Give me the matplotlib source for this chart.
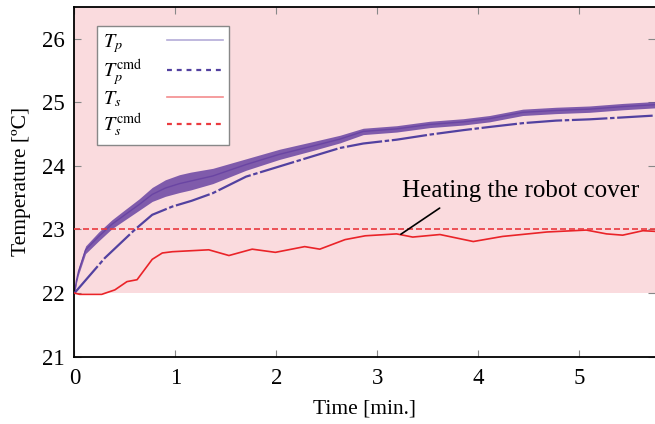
import matplotlib
matplotlib.use("Agg")
import matplotlib.pyplot as plt
from matplotlib.lines import Line2D

plt.rcParams['font.family'] = ['Liberation Serif', 'DejaVu Serif']
plt.rcParams['mathtext.fontset'] = 'stix'

# measured pipe temperature (centre of the noisy trace) and its spread
tp_time = [0.0, 0.02, 0.04, 0.11, 0.24, 0.37, 0.50, 0.64, 0.77, 0.90, 1.04,
           1.15, 1.37, 1.70, 2.03, 2.36, 2.63, 2.86, 3.19, 3.52, 3.85, 4.11,
           4.44, 4.77, 5.10, 5.43, 5.75]
tp_temp = [22.0, 22.2, 22.34, 22.68, 22.89, 23.08, 23.23, 23.39, 23.55, 23.65,
           23.72, 23.76, 23.84, 24.02, 24.18, 24.31, 24.42, 24.54, 24.58, 24.65,
           24.69, 24.74, 24.84, 24.87, 24.89, 24.93, 24.96]
tp_spread = [0.02, 0.04, 0.05, 0.06, 0.07, 0.07, 0.08, 0.09, 0.11, 0.13, 0.14,
             0.14, 0.12, 0.09, 0.08, 0.07, 0.06, 0.05, 0.05, 0.05, 0.05, 0.05,
             0.05, 0.05, 0.05, 0.05, 0.05]

# pipe temperature command
tpc_time = [0.0, 0.30, 0.60, 0.77, 0.97, 1.16, 1.37, 1.70, 2.03, 2.36, 2.63,
            2.86, 3.19, 3.52, 3.85, 4.11, 4.44, 4.77, 5.10, 5.43, 5.75]
tpc_temp = [22.0, 22.55, 23.0, 23.23, 23.36, 23.45, 23.57, 23.83, 23.99, 24.15,
            24.28, 24.35, 24.41, 24.49, 24.56, 24.61, 24.67, 24.71, 24.73, 24.76,
            24.79]

# measured surface temperature
ts_time = [0.0, 0.05, 0.27, 0.40, 0.52, 0.62, 0.77, 0.87, 0.97, 1.33, 1.53,
           1.76, 1.99, 2.28, 2.43, 2.68, 2.88, 3.19, 3.35, 3.62, 3.95, 4.24,
           4.68, 5.07, 5.27, 5.43, 5.63, 5.75]
ts_temp = [22.0, 21.98, 21.98, 22.05, 22.18, 22.21, 22.53, 22.63, 22.65, 22.68,
           22.59, 22.69, 22.64, 22.73, 22.69, 22.84, 22.90, 22.93, 22.88, 22.92,
           22.81, 22.89, 22.96, 22.99, 22.93, 22.91, 22.98, 22.97]

# surface temperature command
tsc_time = [0.0, 5.75]
tsc_temp = [23.0, 23.0]

c_tp = '#6a45a3'
c_tpc = '#5241a0'
c_ts = '#ea2328'
c_tsc = '#ea3a3f'

fig = plt.figure(figsize=(6.55, 4.24), dpi=100)
ax = fig.add_axes([0.1137, 0.1587, 0.8863, 0.8255])

ax.axhspan(22, 26.5, color='#fadbde', zorder=0, lw=0)

lo = [t - s for t, s in zip(tp_temp, tp_spread)]
hi = [t + s for t, s in zip(tp_temp, tp_spread)]
ax.fill_between(tp_time, lo, hi, color=c_tp, alpha=0.85, lw=0, zorder=2)
ax.plot(tp_time, tp_temp, color=c_tp, lw=1.0, zorder=2)
ax.plot(tpc_time, tpc_temp, color=c_tpc, lw=1.6, dashes=(16, 1.2, 2, 1.2), zorder=3)
ax.plot(ts_time, ts_temp, color=c_ts, lw=1.2, zorder=3)
ax.plot(tsc_time, tsc_temp, color=c_tsc, lw=1.2, dashes=(3.6, 1.8), zorder=3)

ax.annotate('', xy=(3.21, 22.90), xytext=(3.64, 23.36),
            arrowprops=dict(arrowstyle='-', color='black', lw=1.2))
ax.text(4.42, 23.60, 'Heating the robot cover', ha='center', va='center',
        fontsize=18)

ax.set_xlim(0, 5.75)
ax.set_ylim(21, 26.5)
ax.set_xticks([0, 1, 2, 3, 4, 5])
ax.set_yticks([21, 22, 23, 24, 25, 26])
ax.tick_params(direction='in', length=5, width=0.8, color='#888888',
               labelsize=16.5, top=True, right=True)
ax.tick_params(axis='x', pad=8)
ax.tick_params(axis='y', pad=7)
ax.spines['right'].set_visible(False)
for side in ['left', 'bottom', 'top']:
    ax.spines[side].set_linewidth(1.3)
ax.set_xlabel('Time [min.]', fontsize=15.5, labelpad=8)
ax.set_ylabel('Temperature [ºC]', fontsize=15.5, labelpad=8)

handles = [
    Line2D([], [], color='#b4acd8', lw=1.2),
    Line2D([], [], color=c_tpc, lw=1.6, dashes=(2.2, 2.2)),
    Line2D([], [], color='#f38c8e', lw=1.2),
    Line2D([], [], color=c_tsc, lw=1.6, dashes=(2.2, 2.2)),
]
labels = [r'$T_p$', r'$T_p^{\rm cmd}$', r'$T_s$', r'$T_s^{\rm cmd}$']
leg = ax.legend(handles, labels, loc='upper left', bbox_to_anchor=(0.039, 0.945),
                borderaxespad=0, markerfirst=False, fancybox=False, framealpha=1,
                edgecolor='#888888', fontsize=14.5, handlelength=2.8,
                handletextpad=1.2, labelspacing=0.1, borderpad=0.3)
leg.get_frame().set_linewidth(1.0)

# keep the labels flush left while the line samples sit on the right
fig.canvas.draw()
renderer = fig.canvas.get_renderer()
widths = [t.get_window_extent(renderer).width for t in leg.get_texts()]
rows = leg._legend_handle_box.get_children()[0].get_children()
for row, w in zip(rows, widths):
    row.sep += (max(widths) - w) * 72.0 / fig.dpi

fig.savefig('out.png', dpi=100)
